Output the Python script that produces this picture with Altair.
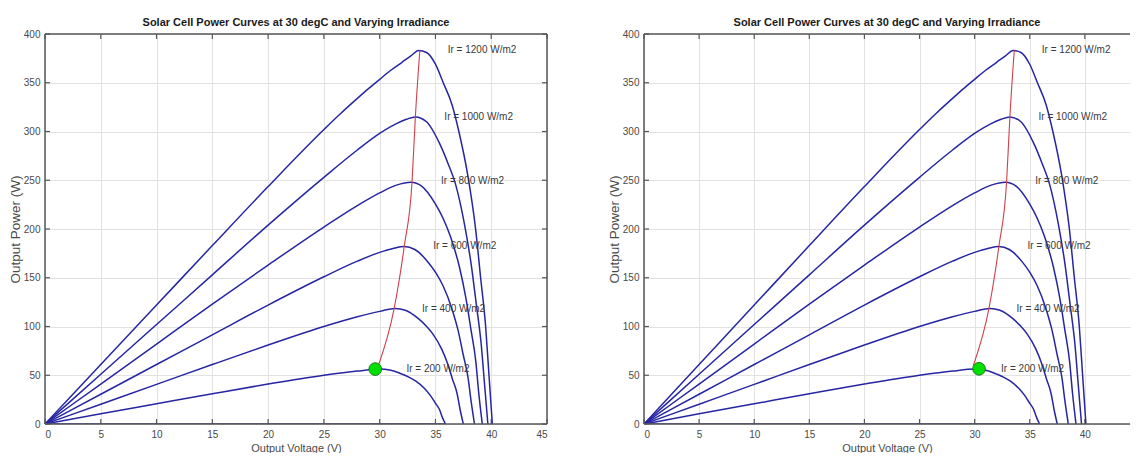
import altair as alt
import pandas as pd

TITLE = "Solar Cell Power Curves at 30 degC and Varying Irradiance"
X_TITLE = "Output Voltage (V)"
Y_TITLE = "Output Power (W)"

X_TICKS = [0, 5, 10, 15, 20, 25, 30, 35, 40, 45]
X_TICKS_RIGHT = [0, 5, 10, 15, 20, 25, 30, 35, 40]
Y_TICKS = [0, 50, 100, 150, 200, 250, 300, 350, 400]

# Power curves (V in volts, P in watts)
V_1200 = [0, 5, 10, 15, 20, 25, 26.5, 28, 29, 30, 31, 32, 32.8, 33.5, 34.2, 35.0, 35.7, 36.5, 37.1, 37.9, 38.6, 39.05, 39.5, 39.8, 40.1]
P_1200 = [0, 61, 122, 183, 243.5, 302, 318.5, 334, 344, 353.5, 362.8, 371, 377.6, 383, 381, 369, 350, 327, 300, 255, 200, 150, 100, 50, 0]

V_1000 = [0, 5, 10, 15, 20, 25, 28, 30, 31.5, 32.4, 33.2, 34.2, 35.4, 36.1, 36.8, 37.6, 38.2, 38.66, 39.1, 39.4, 39.7]
P_1000 = [0, 51, 102, 153, 204, 253, 281, 298, 308, 312.5, 315, 310, 287, 268, 246, 205, 164, 123, 82, 41, 0]

V_800 = [0, 5, 10, 15, 20, 25, 28, 30, 31.5, 32.8, 33.76, 34.98, 35.68, 36.32, 37.15, 37.73, 38.18, 38.62, 38.88, 39.2]
P_800 = [0, 41, 82, 123, 163, 202, 224, 237, 245, 248, 244, 226, 211, 193, 161, 129, 97, 64, 32, 0]

V_600 = [0, 5, 10, 15, 20, 25, 28, 30, 31.2, 32.2, 33.15, 34.34, 35.04, 35.67, 36.48, 37.05, 37.49, 37.93, 38.19, 38.5]
P_600 = [0, 30.5, 61, 91.5, 122, 151, 167, 176, 180, 182, 179, 166, 155, 142, 118, 95, 71, 47, 24, 0]

V_400 = [0, 5, 10, 15, 20, 25, 28, 30, 31.4, 32.3, 33.5, 34.15, 34.76, 35.55, 36.1, 36.52, 36.95, 37.2, 37.5]
P_400 = [0, 20.3, 40.6, 61, 81, 100, 110, 115.5, 118.5, 116.7, 107.8, 100.7, 92.4, 77, 61.6, 46.2, 30.8, 15.4, 0]

V_200 = [0, 5, 10, 15, 20, 25, 28, 30, 30.9, 32.0, 32.66, 33.25, 34.0, 34.54, 34.96, 35.37, 35.6, 35.9]
P_200 = [0, 10.4, 20.7, 31, 41, 50, 54.3, 56.3, 55.5, 51.2, 47.9, 43.9, 36.6, 29.3, 22, 14.6, 7.3, 0]

V_ZERO = [0, 35.9]
P_ZERO = [0, 0]

# Maximum power point trace (red)
MPP_V = [29.9, 31.3, 32.2, 32.9, 33.2, 33.6]
MPP_P = [60.5, 118.5, 182, 248, 315, 383]

# Curve labels
LABELS = ["Ir = 1200 W/m2", "Ir = 1000 W/m2", "Ir = 800 W/m2", "Ir = 600 W/m2", "Ir = 400 W/m2", "Ir = 200 W/m2"]
LABEL_V = [36.1, 35.8, 35.5, 34.8, 33.8, 32.4]
LABEL_P = [384, 315, 249, 183, 118, 56]

# Green operating point of each panel
DOT_LEFT = (29.6, 56.3)
DOT_RIGHT = (30.4, 56.6)

FONT = "Liberation Sans, Arial, sans-serif"

curves = []
for name, vs, ps in [("1200", V_1200, P_1200), ("1000", V_1000, P_1000), ("800", V_800, P_800),
                     ("600", V_600, P_600), ("400", V_400, P_400), ("200", V_200, P_200),
                     ("0", V_ZERO, P_ZERO)]:
    for i, (v, p) in enumerate(zip(vs, ps)):
        curves.append({"Ir": name, "V": v, "P": p, "i": i})
curve_df = pd.DataFrame(curves)
mpp_df = pd.DataFrame({"V": MPP_V, "P": MPP_P, "i": list(range(len(MPP_V)))})
label_df = pd.DataFrame({"V": LABEL_V, "P": LABEL_P, "label": LABELS})
yt_df = pd.DataFrame({"P": Y_TICKS})
one_df = pd.DataFrame({"k": [0]})

FRAME = "#575757"
BLUE = "#2626a4"


def panel(dot, w, h, xmax, xticks, right_frame):
    X = alt.X("V:Q", scale=alt.Scale(domain=[0, xmax], nice=False, zero=False),
              axis=alt.Axis(values=xticks, title=X_TITLE, grid=True, ticks=False, domain=False,
                            labelPadding=5, titlePadding=3, format="d"))
    Y = alt.Y("P:Q", scale=alt.Scale(domain=[0, 400], nice=False),
              axis=alt.Axis(values=Y_TICKS, title=Y_TITLE, grid=True, ticks=False, domain=False,
                            labelPadding=5, titlePadding=1, format="d", titleFontSize=13.5))
    xt_df = pd.DataFrame({"V": xticks})
    lines = alt.Chart(curve_df).mark_line(color=BLUE, strokeWidth=1.5, clip=True,
                                          interpolate="monotone").encode(
        x=X, y=Y, detail="Ir:N", order="i:Q")
    mpp = alt.Chart(mpp_df).mark_line(color="#d0404a", strokeWidth=1.1, clip=True,
                                      interpolate="monotone").encode(x=X, y=Y, order="i:Q")
    dot_df = pd.DataFrame({"V": [dot[0]], "P": [dot[1]]})
    pt = alt.Chart(dot_df).mark_point(filled=True, shape="circle", size=160, color="#00e000",
                                      stroke="#1d7a1d", strokeWidth=1, opacity=1).encode(x=X, y=Y)
    txt = alt.Chart(label_df).mark_text(align="left", baseline="middle", font=FONT,
                                        fontSize=10, color="#3a3a3a").encode(x=X, y=Y, text="label:N")
    rule = dict(color=FRAME, strokeWidth=1.2)
    tx_top = alt.Chart(xt_df).mark_rule(**rule).encode(x=X, y=alt.value(0), y2=alt.value(5))
    tx_bot = alt.Chart(xt_df).mark_rule(**rule).encode(x=X, y=alt.value(h), y2=alt.value(h - 5))
    ty_left = alt.Chart(yt_df).mark_rule(**rule).encode(y=Y, x=alt.value(0), x2=alt.value(5))
    fr = dict(color=FRAME, strokeWidth=1.5)
    f_top = alt.Chart(one_df).mark_rule(**fr).encode(x=alt.value(0), x2=alt.value(w), y=alt.value(0))
    f_bot = alt.Chart(one_df).mark_rule(**fr).encode(x=alt.value(0), x2=alt.value(w), y=alt.value(h))
    f_left = alt.Chart(one_df).mark_rule(**fr).encode(x=alt.value(0), y=alt.value(0), y2=alt.value(h))
    layers = [tx_top, tx_bot, ty_left]
    if right_frame:
        ty_right = alt.Chart(yt_df).mark_rule(**rule).encode(y=Y, x=alt.value(w), x2=alt.value(w - 5))
        f_right = alt.Chart(one_df).mark_rule(**fr).encode(x=alt.value(w), y=alt.value(0), y2=alt.value(h))
        layers += [ty_right, f_right]
    layers += [lines, mpp, pt, txt, f_top, f_bot, f_left]
    return alt.layer(*layers).properties(
        width=w, height=h,
        title=alt.TitleParams(TITLE, font=FONT, fontSize=11, fontWeight="bold",
                              color="#1a1a1a", offset=1, anchor="middle"))


left = panel(DOT_LEFT, 502, 390, 45, X_TICKS, True)
right = panel(DOT_RIGHT, 486, 390, 44.1, X_TICKS_RIGHT, False)

chart = alt.hconcat(left, right, spacing=59).properties(
    padding={"left": 0, "top": 9, "right": 0, "bottom": 0}
).configure_axis(
    labelFont=FONT, labelFontSize=10, labelColor="#4a4a4a",
    titleFont=FONT, titleFontSize=11, titleFontWeight="normal", titleColor="#4a4a4a",
    gridColor="#e2e2e2", gridWidth=1
).configure_view(stroke="transparent", strokeWidth=0)

chart.save("out.html", embed_options={"renderer": "svg", "actions": False})
